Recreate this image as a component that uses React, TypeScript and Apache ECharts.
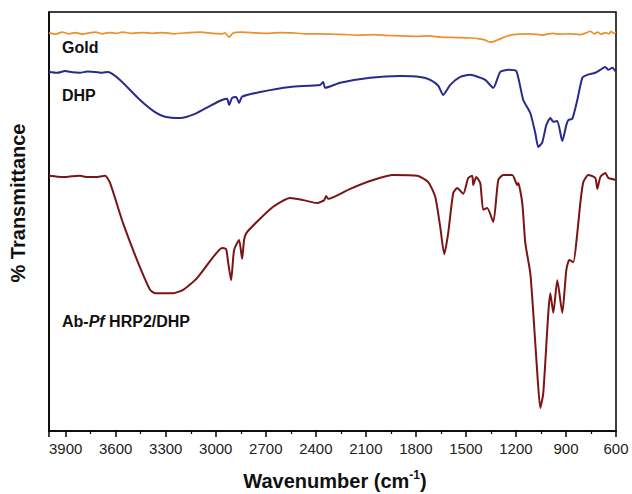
import React, { useEffect, useRef } from "react";
import * as echarts from "echarts";

// Wavenumbers (cm^-1) and relative transmittance (arbitrary, offset spectra)
const goldWn = [4000, 3960, 3920, 3880, 3840, 3800, 3760, 3720, 3680, 3640, 3600, 3560, 3500, 3440, 3380, 3320, 3250, 3160, 3094, 3020, 2960, 2944, 2920, 2896, 2840, 2760, 2680, 2614, 2540, 2460, 2374, 2300, 2220, 2134, 2050, 1970, 1894, 1800, 1720, 1654, 1560, 1474, 1420, 1384, 1354, 1330, 1312, 1270, 1234, 1180, 1114, 1040, 980, 934, 880, 820, 780, 754, 730, 710, 690, 664, 640, 630, 615, 600];
const goldT = [95.0, 94.7, 95.2, 94.8, 95.1, 94.7, 95.0, 95.2, 94.8, 95.1, 94.9, 95.2, 94.9, 95.1, 94.9, 95.1, 94.8, 95.1, 95.2, 94.9, 94.8, 95.0, 94.0, 95.0, 95.2, 95.0, 94.9, 95.1, 95.0, 94.8, 94.8, 94.7, 94.6, 94.5, 94.6, 94.4, 94.3, 94.2, 94.3, 94.0, 93.9, 93.8, 93.6, 93.3, 92.8, 93.0, 93.3, 94.0, 94.5, 94.7, 94.8, 94.5, 94.9, 94.7, 94.8, 94.6, 95.0, 95.4, 94.8, 95.2, 94.7, 95.1, 94.8, 95.4, 94.9, 95.2];

const dhpWn = [4000, 3950, 3904, 3860, 3814, 3770, 3724, 3680, 3646, 3574, 3454, 3364, 3304, 3214, 3124, 3034, 2962, 2932, 2920, 2902, 2878, 2860, 2842, 2734, 2554, 2374, 2356, 2344, 2254, 2074, 1894, 1774, 1714, 1666, 1636, 1594, 1534, 1474, 1426, 1384, 1336, 1294, 1246, 1198, 1156, 1114, 1084, 1066, 1042, 1018, 994, 976, 952, 922, 898, 886, 862, 832, 802, 772, 724, 694, 664, 646, 622, 600];
const dhpT = [85.7, 85.5, 85.9, 85.6, 85.5, 85.8, 85.7, 85.5, 85.7, 83.8, 79.0, 76.1, 75.0, 74.7, 75.7, 77.6, 79.0, 79.3, 77.8, 79.5, 79.7, 78.3, 79.8, 80.9, 82.1, 82.6, 83.3, 81.9, 83.1, 84.3, 84.7, 84.5, 83.8, 82.4, 80.2, 82.6, 84.5, 85.0, 84.5, 83.8, 81.9, 85.7, 86.2, 85.9, 79.0, 75.9, 71.1, 67.8, 68.9, 73.0, 74.7, 73.8, 74.0, 69.2, 73.0, 74.2, 74.5, 79.0, 84.3, 85.0, 85.5, 86.2, 86.9, 86.2, 86.7, 85.7];

const abWn = [4000, 3950, 3904, 3860, 3814, 3770, 3724, 3664, 3634, 3556, 3472, 3394, 3364, 3256, 3196, 3112, 3016, 2962, 2938, 2926, 2908, 2890, 2860, 2842, 2830, 2812, 2656, 2554, 2476, 2392, 2350, 2338, 2326, 2194, 2056, 1936, 1792, 1726, 1684, 1654, 1630, 1606, 1576, 1552, 1516, 1486, 1462, 1456, 1438, 1414, 1396, 1372, 1336, 1306, 1276, 1222, 1192, 1186, 1162, 1144, 1114, 1096, 1072, 1054, 1036, 1006, 994, 976, 952, 922, 898, 880, 856, 832, 814, 796, 766, 724, 712, 694, 664, 646, 600];
const abT = [60.9, 60.7, 60.6, 60.8, 60.9, 60.6, 60.6, 60.9, 59.2, 49.6, 40.8, 33.7, 32.9, 32.9, 33.7, 36.5, 41.5, 43.7, 43.4, 40.3, 36.0, 43.2, 45.6, 41.1, 45.6, 47.5, 53.5, 55.6, 55.1, 54.4, 55.1, 56.1, 55.4, 57.8, 59.9, 61.1, 60.9, 59.4, 55.9, 48.7, 42.2, 47.3, 56.8, 58.0, 56.6, 60.4, 60.9, 58.7, 60.6, 59.2, 52.8, 53.2, 49.9, 59.9, 61.1, 61.1, 58.7, 59.2, 54.4, 44.9, 37.7, 28.2, 13.8, 5.5, 9.1, 28.2, 32.9, 28.2, 36.0, 28.2, 38.4, 40.8, 40.3, 47.3, 54.4, 59.4, 61.1, 60.4, 57.8, 60.6, 61.6, 60.4, 59.9];

const xTicks = [3900, 3600, 3300, 3000, 2700, 2400, 2100, 1800, 1500, 1200, 900, 600];

const pair = (xs: number[], ys: number[]) => xs.map((x, i) => [x, ys[i]]);

export default function App() {
  const ref = useRef<HTMLDivElement>(null);
  useEffect(() => {
    if (!ref.current) return;
    const chart = echarts.init(ref.current, undefined, { renderer: "svg" });
    const font = "'Liberation Sans', Arial, sans-serif";
    chart.setOption({
      animation: false,
      backgroundColor: "#ffffff",
      grid: {
        left: 49,
        right: 16,
        top: 12,
        bottom: 63,
        show: true,
        borderColor: "#000",
        borderWidth: 1.5,
        backgroundColor: "transparent",
      },
      xAxis: {
        type: "value",
        min: 600,
        max: 4000,
        interval: 300,
        inverse: true,
        axisLine: { show: true, lineStyle: { color: "#000", width: 1.5 } },
        axisTick: { show: true, inside: false, length: 6, lineStyle: { color: "#000", width: 1.5 } },
        minorTick: { show: true, splitNumber: 2, length: 3, lineStyle: { color: "#000", width: 1.2 } },
        splitLine: { show: false },
        axisLabel: {
          color: "#222",
          fontSize: 15,
          fontFamily: font,
          margin: 10,
          formatter: (v: number) => (xTicks.includes(v) ? String(v) : ""),
        },
      },
      yAxis: {
        type: "value",
        min: 0,
        max: 100,
        axisLine: { show: true, lineStyle: { color: "#000", width: 1.5 } },
        axisTick: { show: false },
        axisLabel: { show: false },
        splitLine: { show: false },
      },
      series: [
        {
          name: "Gold",
          type: "line",
          data: pair(goldWn, goldT),
          showSymbol: false,
          smooth: 0.2,
          lineStyle: { color: "#EE8F2E", width: 1.7 },
        },
        {
          name: "DHP",
          type: "line",
          data: pair(dhpWn, dhpT),
          showSymbol: false,
          smooth: 0.2,
          lineStyle: { color: "#2A2A8A", width: 2 },
        },
        {
          name: "Ab-Pf HRP2/DHP",
          type: "line",
          data: pair(abWn, abT),
          showSymbol: false,
          smooth: 0.2,
          lineStyle: { color: "#7B1515", width: 2 },
        },
      ],
      graphic: [
        {
          type: "text",
          left: 62,
          top: 39,
          style: { text: "Gold", font: `bold 16px ${font}`, fill: "#111" },
        },
        {
          type: "text",
          left: 62,
          top: 87,
          style: { text: "DHP", font: `bold 16px ${font}`, fill: "#111" },
        },
        {
          type: "text",
          left: 62,
          top: 313,
          style: {
            text: "{b|Ab-}{i|Pf}{b| HRP2/DHP}",
            rich: {
              b: { fontFamily: font, fontWeight: "bold", fontSize: 16, fill: "#111" },
              i: { fontFamily: font, fontWeight: "bold", fontStyle: "italic", fontSize: 16, fill: "#111" },
            },
          },
        },
        {
          type: "text",
          x: 18,
          y: 203,
          rotation: Math.PI / 2,
          style: {
            text: "% Transmittance",
            font: `bold 20px ${font}`,
            fill: "#111",
            textAlign: "center",
            textVerticalAlign: "middle",
          },
        },
        {
          type: "text",
          x: 335,
          y: 481,
          style: {
            text: "{a|Wavenumber (cm}{s|-1}{a|)}",
            textAlign: "center",
            textVerticalAlign: "middle",
            rich: {
              a: { fontFamily: font, fontWeight: "bold", fontSize: 20, fill: "#111", lineHeight: 24 },
              s: { fontFamily: font, fontWeight: "bold", fontSize: 12, fill: "#111", verticalAlign: "top", lineHeight: 24, padding: [0, 0, 10, 0] },
            },
          },
        },
      ],
    });
    return () => chart.dispose();
  }, []);
  return <div ref={ref} style={{ width: 632, height: 494, position: "absolute", left: 0, top: 0 }} />;
}
